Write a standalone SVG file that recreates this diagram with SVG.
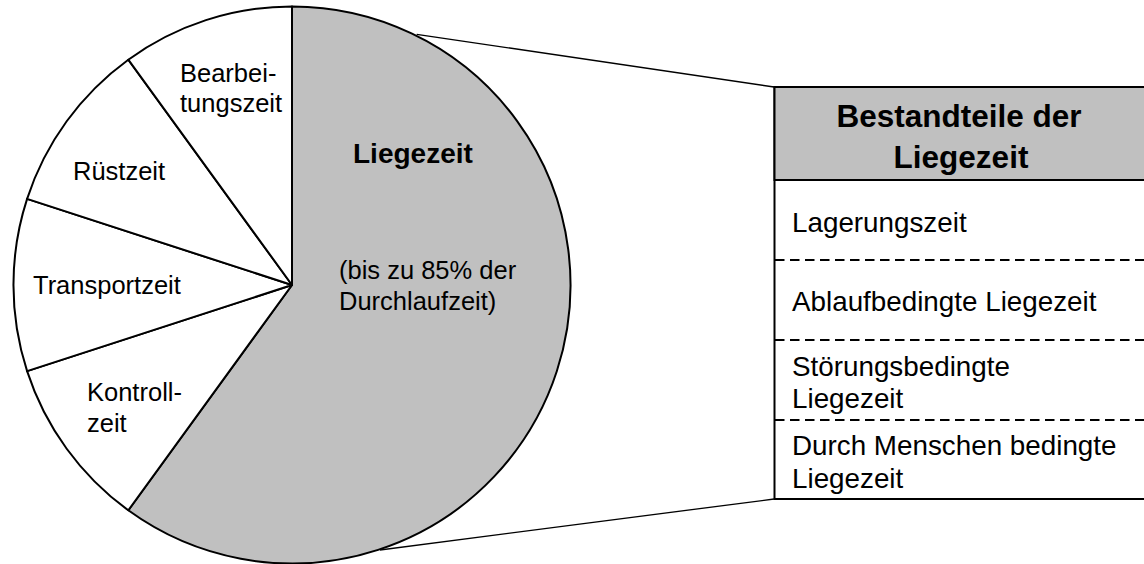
<svg xmlns="http://www.w3.org/2000/svg" width="1144" height="564" viewBox="0 0 1144 564">
<style>
.t{font-family:"Liberation Sans",Arial,sans-serif;font-size:25.5px;fill:#000}
.b{font-weight:bold}
.r{font-size:27.8px}
.h{font-size:31.5px}
.sl{fill:#fff;stroke:#000;stroke-width:2;stroke-linejoin:round}
.gr{fill:#c0c0c0;stroke:#000;stroke-width:2;stroke-linejoin:round}
.cn{stroke:#000;stroke-width:1.3;fill:none}
.ds{stroke:#000;stroke-width:2;stroke-dasharray:9.5 5.5;fill:none}
</style>
<rect width="1144" height="564" fill="#fff"/>
<g id="connectors">
<line class="cn" x1="416.7" y1="34.3" x2="774" y2="87"/>
<line class="cn" x1="380" y1="550" x2="774" y2="499"/>
</g>
<g id="slice-liegezeit">
<path class="gr" d="M292,285 L292,6.5 A278.5,278.5 0 1 1 128.3,510.3 Z"/>
<text class="t b" x="353" y="163" style="font-size:28px">Liegezeit</text>
<text class="t" x="339" y="279">(bis zu 85% der</text>
<text class="t" x="339" y="310">Durchlaufzeit)</text>
</g>
<g id="slice-kontrollzeit">
<path class="sl" d="M292,285 L128.3,510.3 A278.5,278.5 0 0 1 27.1,371.1 Z"/>
<text class="t" x="87" y="401">Kontroll-</text>
<text class="t" x="87" y="432">zeit</text>
</g>
<g id="slice-transportzeit">
<path class="sl" d="M292,285 L27.1,371.1 A278.5,278.5 0 0 1 27.1,198.9 Z"/>
<text class="t" x="33" y="294">Transportzeit</text>
</g>
<g id="slice-ruestzeit">
<path class="sl" d="M292,285 L27.1,198.9 A278.5,278.5 0 0 1 128.3,59.7 Z"/>
<text class="t" x="73" y="180">Rüstzeit</text>
</g>
<g id="slice-bearbeitungszeit">
<path class="sl" d="M292,285 L128.3,59.7 A278.5,278.5 0 0 1 292,6.5 Z"/>
<text class="t" x="180" y="82">Bearbei-</text>
<text class="t" x="180" y="112">tungszeit</text>
</g>
<g id="table">
<rect x="774.5" y="87" width="372" height="412" fill="#fff" stroke="#000" stroke-width="2"/>
<rect x="774.5" y="87" width="372" height="93" fill="#c0c0c0" stroke="#000" stroke-width="2"/>
<text class="t b h" x="959" y="127" text-anchor="middle">Bestandteile der</text>
<text class="t b h" x="961" y="168" text-anchor="middle">Liegezeit</text>
</g>
<g id="row-lagerungszeit">
<text class="t r" x="792" y="232">Lagerungszeit</text>
<line class="ds" x1="775" y1="260" x2="1144" y2="260"/>
</g>
<g id="row-ablaufbedingt">
<text class="t r" x="792" y="311">Ablaufbedingte Liegezeit</text>
<line class="ds" x1="775" y1="340" x2="1144" y2="340"/>
</g>
<g id="row-stoerungsbedingt">
<text class="t r" x="792" y="376">Störungsbedingte</text>
<text class="t r" x="792" y="408">Liegezeit</text>
<line class="ds" x1="775" y1="420" x2="1144" y2="420"/>
</g>
<g id="row-menschen">
<text class="t r" x="792" y="455">Durch Menschen bedingte</text>
<text class="t r" x="792" y="488">Liegezeit</text>
</g>
</svg>
